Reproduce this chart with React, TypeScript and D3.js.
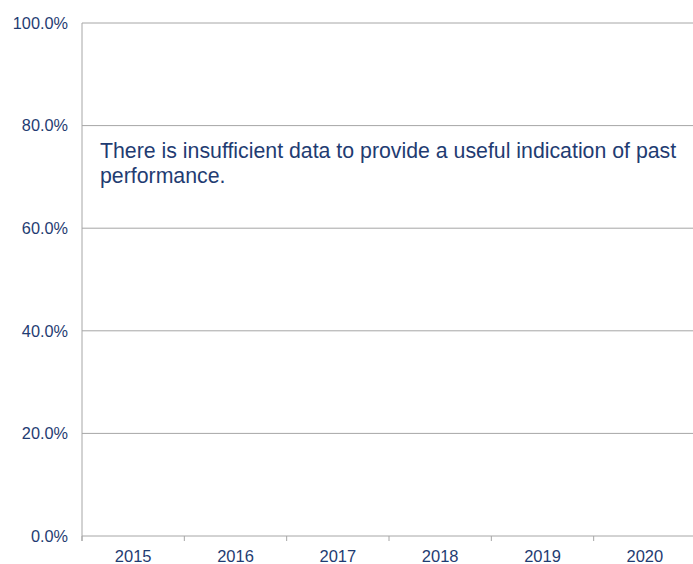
import React from "react";
import * as d3 from "d3";

const categories = ["2015", "2016", "2017", "2018", "2019", "2020"];
const yTicks = [0, 0.2, 0.4, 0.6, 0.8, 1.0];
const messageLines = [
  "There is insufficient data to provide a useful indication of past",
  "performance.",
];

const W = 693;
const H = 564;
const margin = { left: 82, top: 23, bottom: 28 };
const plotRight = 696;

export default function App() {
  const x = d3.scaleBand<string>().domain(categories).range([margin.left, plotRight]);
  const y = d3.scaleLinear().domain([0, 1]).range([H - margin.bottom, margin.top]);
  const fmt = d3.format(".1%");
  const textColor = "#1f3c72";
  const grid = "#a6a6a6";
  const y0 = y(0);
  const edges = categories.map((c) => x(c)!).concat([x(categories[categories.length - 1])! + x.bandwidth()]);
  return (
    <svg width={W} height={H} style={{ position: "absolute", left: 0, top: 0, background: "#fff" }}
      fontFamily="'Liberation Sans', Arial, sans-serif">
      {yTicks.map((t) => (
        <g key={t}>
          <line x1={margin.left} x2={W} y1={y(t)} y2={y(t)} stroke={grid} strokeWidth={1} />
          <text x={68} y={y(t)} dy="0.35em" textAnchor="end" fontSize={16.3} fill={textColor}>
            {fmt(t)}
          </text>
        </g>
      ))}
      <line x1={margin.left} x2={margin.left} y1={y(1)} y2={y0 + 5} stroke={grid} strokeWidth={1} />
      {edges.map((e, i) => (
        <line key={i} x1={e} x2={e} y1={y0} y2={y0 + 5} stroke={grid} strokeWidth={1} />
      ))}
      {categories.map((c) => (
        <text key={c} x={x(c)! + x.bandwidth() / 2} y={y0 + 26} textAnchor="middle" fontSize={16.5} fill={textColor}>
          {c}
        </text>
      ))}
      {messageLines.map((l, i) => (
        <text key={i} x={100} y={158 + i * 25} fontSize={21.3} fill={textColor}>
          {l}
        </text>
      ))}
    </svg>
  );
}
